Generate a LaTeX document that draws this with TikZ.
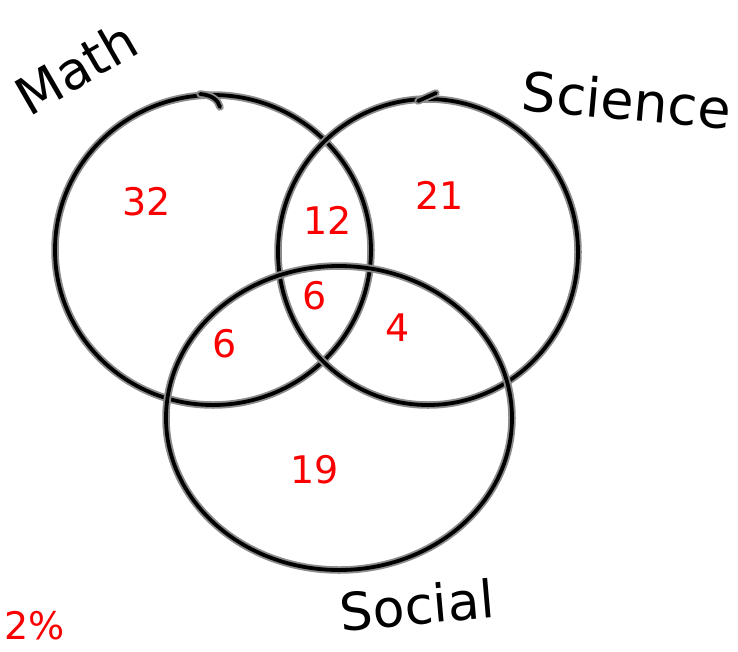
\documentclass[tikz,border=0pt]{standalone}
\usepackage{fontspec}
\setmainfont{DejaVu Sans}
\definecolor{ink}{RGB}{0,0,0}
\definecolor{halo}{RGB}{140,140,140}
\definecolor{penred}{RGB}{250,0,0}
\tikzset{
  pen/.style={draw=ink, line width=3.8pt, line cap=round, line join=round,
    preaction={draw=halo, line width=7.5pt, line cap=round, line join=round}},
  num/.style={text=penred, font=\fontsize{38}{38}\selectfont, inner sep=0pt},
  lbl/.style={text=ink, font=\fontsize{46}{46}\selectfont, inner sep=0pt}
}
\begin{document}
\begin{tikzpicture}[x=1pt,y=-1pt]
\useasboundingbox (0,0) rectangle (738,651);
\clip (0,0) rectangle (738,651);
% circles
\draw[pen] (213,250) ellipse [x radius=158, y radius=155];
\draw[pen] (428,252) ellipse [x radius=150, y radius=153];
\draw[pen] (339,418) ellipse [x radius=173, y radius=152];
% hooks at the tops
\node[coordinate] (mh1) at (200,94) {};
\node[coordinate] (mh2) at (220,107) {};
\draw[pen] (mh1) .. controls (212,95) and (218,100) .. (mh2);
\node[coordinate] (sh1) at (436,93) {};
\node[coordinate] (sh2) at (418,101) {};
\draw[pen] (sh2) -- (sh1);
% region counts
\node[num] (n32) at (147,202) {32};
\node[num] (n12) at (328,220) {12};
\node[num] (n21) at (440,195) {21};
\node[num] (n6c) at (315,296) {6};
\node[num] (n6l) at (225,344) {6};
\node[num] (n4) at (398,328) {4};
\node[num] (n19) at (315,470) {19};
\node[num, anchor=south west] (pct) at (4,640) {2\%};
% set labels
\node[lbl, font=\fontsize{52}{52}\selectfont, rotate=30] (math) at (76,68) {Math};
\node[lbl, font=\fontsize{54}{54}\selectfont, rotate=-5] (sci) at (627,100) {Science};
\node[lbl, font=\fontsize{52}{52}\selectfont, rotate=5] (soc) at (417,605) {Social};
\end{tikzpicture}
\end{document}
